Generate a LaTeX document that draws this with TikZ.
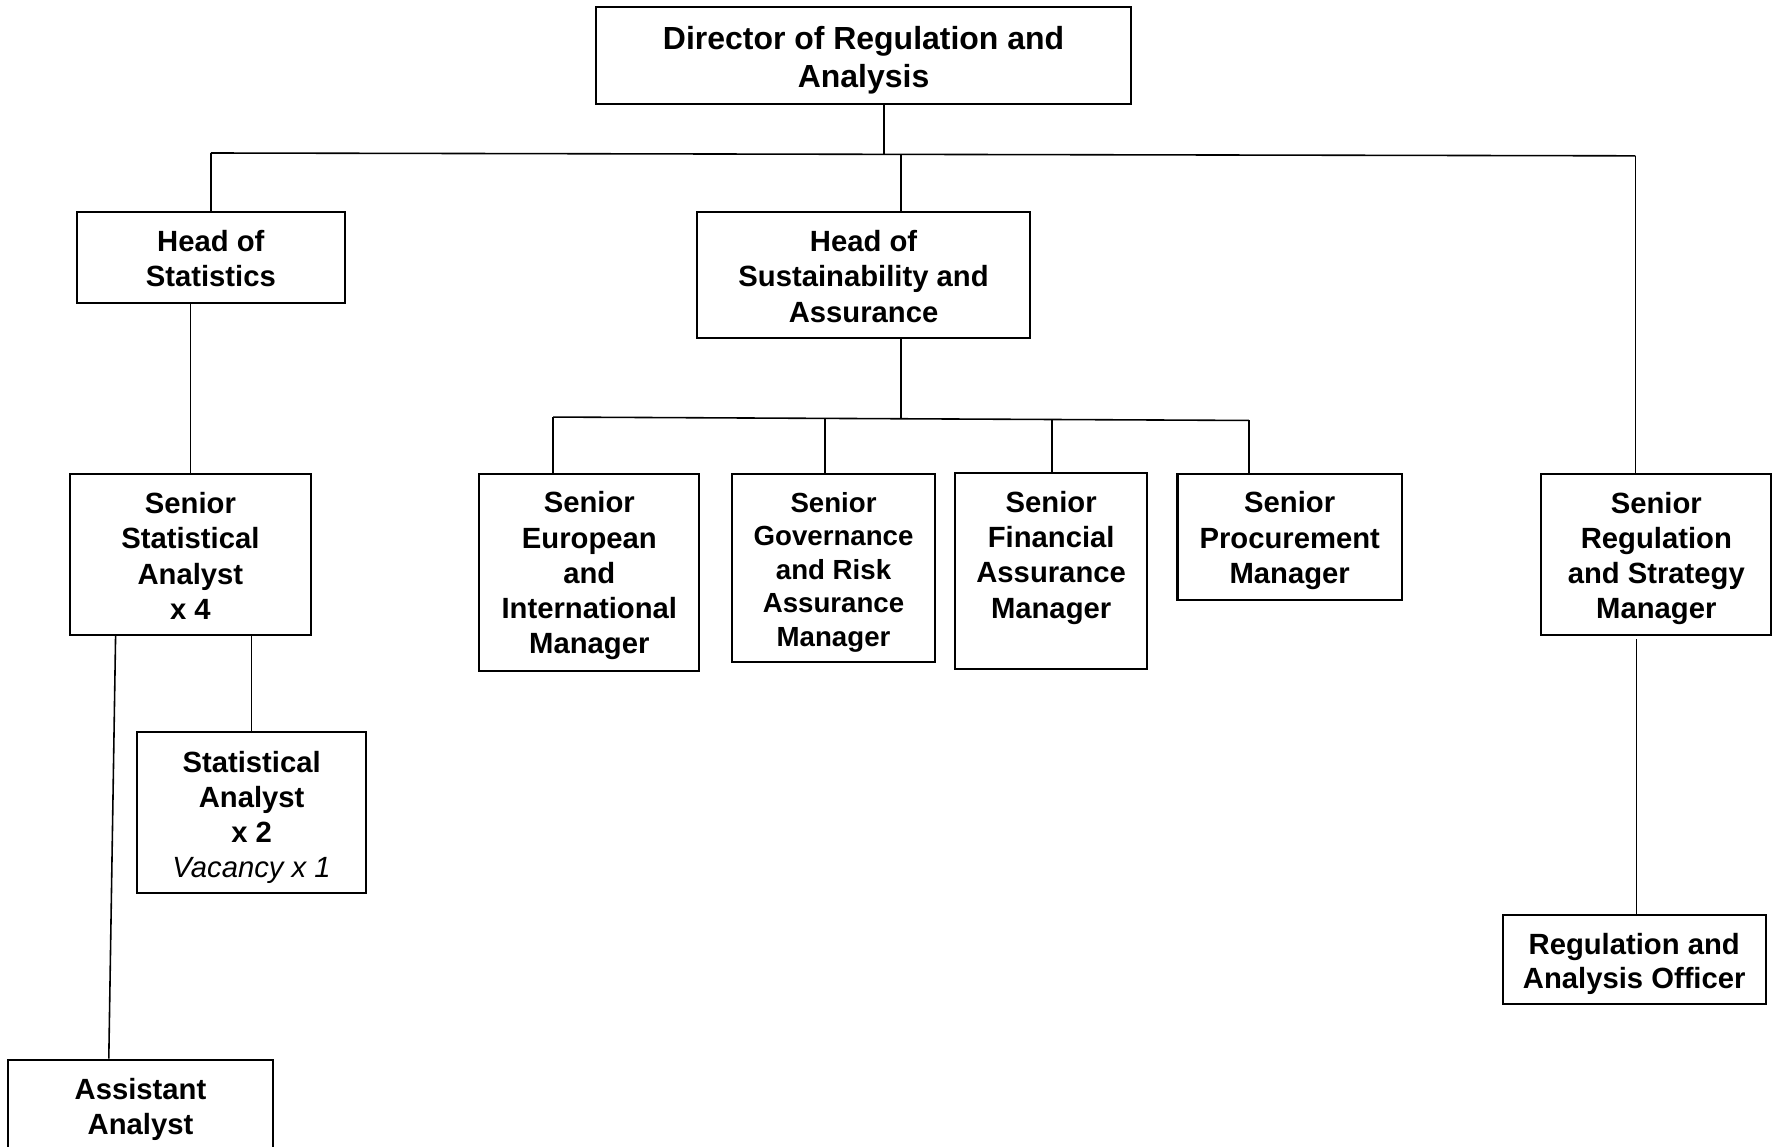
\documentclass[tikz,border=0pt]{standalone}
\usepackage{fontspec}
\setmainfont{Liberation Sans}
\begin{document}
\begin{tikzpicture}[x=1pt,y=-1pt,
  box/.style={draw, line width=1.8pt, inner sep=0pt, rectangle},
  lbl/.style={align=center, inner sep=0pt, font=\bfseries\fontsize{25.8}{31}\selectfont},
  conn/.style={line width=1.4pt}]
\useasboundingbox (0,0) rectangle (1568,1012);
\clip (0,0) rectangle (1568,1012);
\fill[white] (0,0) rectangle (1568,1012);

% boxes
\node[box, minimum width=472pt, minimum height=86pt] (dir) at (762,49) {};
\node[box, minimum width=236pt, minimum height=80pt] (hstat) at (186,227) {};
\node[box, minimum width=294pt, minimum height=111pt] (hsus) at (762,242.5) {};
\node[box, minimum width=212pt, minimum height=142pt] (ssa) at (168,489) {};
\node[box, minimum width=194pt, minimum height=174pt] (seur) at (520,505) {};
\node[box, minimum width=179pt, minimum height=166pt] (sgov) at (735.5,501) {};
\node[box, minimum width=169pt, minimum height=173pt] (sfin) at (927.5,503.5) {};
\node[box, minimum width=198pt, minimum height=111pt] (sproc) at (1138,473.5) {};
\node[box, minimum width=203pt, minimum height=142pt] (sreg) at (1461.5,489) {};
\node[box, minimum width=202pt, minimum height=142pt] (sa) at (222,717) {};
\node[box, minimum width=234pt, minimum height=80pt] (aa) at (124,975) {};
\node[box, minimum width=232pt, minimum height=79pt] (rao) at (1442,846.5) {};

% texts
\node[lbl, font=\bfseries\fontsize{28.2}{34}\selectfont] (dirt) at ([yshift=-4pt]dir.center) {Director of Regulation and\\Analysis};
\node[lbl] (hstatt) at ([yshift=-1pt]hstat.center) {Head of\\Statistics};
\node[lbl] (hsust) at ([yshift=-1.5pt]hsus.center) {Head of\\Sustainability and\\Assurance};
\node[lbl] (ssat) at ([yshift=-1.5pt]ssa.center) {Senior\\Statistical\\Analyst\\x 4};
\node[lbl] (seurt) at ([yshift=-3pt]seur.center) {Senior\\European\\and\\International\\Manager};
\node[lbl, font=\bfseries\fontsize{24.4}{29.6}\selectfont] (sgovt) at ([yshift=-4pt]sgov.center) {Senior\\Governance\\and Risk\\Assurance\\Manager};
\node[lbl] (sfint) at ([yshift=-1.5pt]sfin.center) {Senior\\Financial\\Assurance\\Manager\\\mbox{}};
\node[lbl] (sproct) at ([yshift=-3.5pt]sproc.center) {Senior\\Procurement\\Manager};
\node[lbl] (sregt) at ([yshift=-4pt]sreg.center) {Senior\\Regulation\\and Strategy\\Manager};
\node[lbl] (sat) at ([yshift=-4.5pt]sa.center) {Statistical\\Analyst\\x 2\\{\mdseries\itshape Vacancy x 1}};
\node[lbl] (aat) at ([yshift=-4pt]aa.center) {Assistant\\Analyst};
\node[lbl, font=\bfseries\fontsize{25.8}{30}\selectfont] (raot) at ([yshift=-4pt]rao.center) {Regulation and\\Analysis Officer};

% top bus
\coordinate (busL) at (186,135);
\coordinate (busR) at (1443,137.5);
\coordinate (jdir) at (780,136.3);
\coordinate (jsus) at (795,136.4);
\draw[conn] (busL) -- (busR);
\draw[conn] (dir.south -| jdir) -- (jdir);
\draw[conn] (busL) -- (hstat.north);
\draw[conn] (jsus) -- (jsus |- hsus.north);
\draw[conn] (busR) -- (busR |- sreg.north);

% statistics branch
\draw[conn] (ssa.north |- hstat.south) -- (ssa.north);
\draw[conn] ([xshift=-66pt]ssa.south) -- ([xshift=-28pt]aa.north);
\draw[conn] (sa.north |- ssa.south) -- (sa.north);

% sustainability branch
\coordinate (sbL) at (488,368);
\coordinate (sbR) at (1102,371);
\coordinate (sbM) at (795,369.5);
\coordinate (sbG) at (728,369.2);
\coordinate (sbF) at (928,370.1);
\draw[conn] (hsus.south -| sbM) -- (sbM);
\draw[conn] (sbL) -- (sbR);
\draw[conn] (sbL) -- (sbL |- seur.north);
\draw[conn] (sbG) -- (sbG |- sgov.north);
\draw[conn] (sbF) -- (sbF |- sfin.north);
\draw[conn] (sbR) -- (sbR |- sproc.north);

% regulation branch
\draw[conn] ([xshift=-17.5pt,yshift=-3pt]sreg.south) -- ([xshift=2pt]rao.north);
\end{tikzpicture}
\end{document}
